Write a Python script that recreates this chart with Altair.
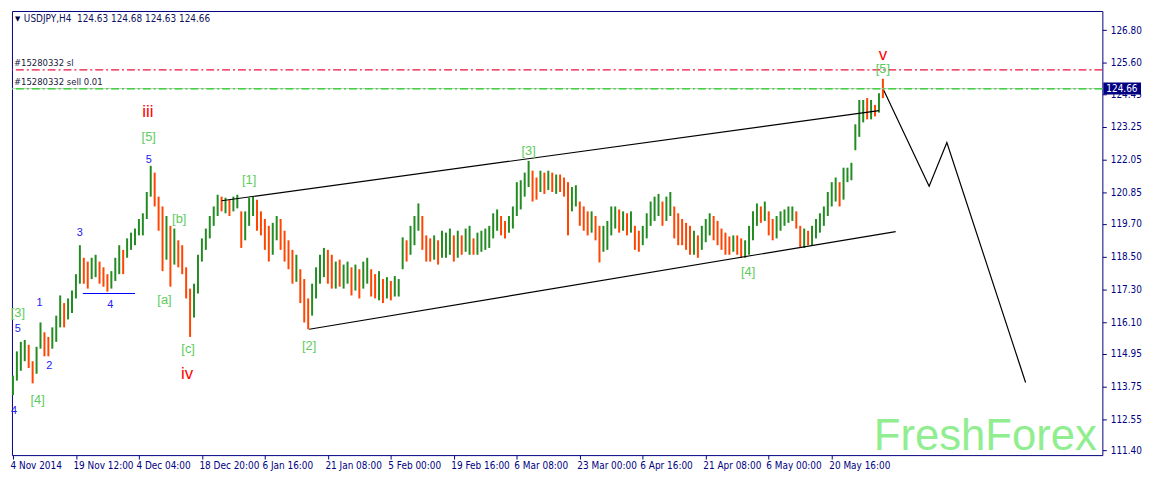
import altair as alt
import pandas as pd

# ---------------- data ----------------
# H4 bars, bar index (one index step = one 4-hour bar on the chart's time axis)
bar_index = list(range(1, 889, 4))

bar_high = [
    114.14, 115.03, 115.38, 115.45, 115.27, 114.67, 115.20, 116.09, 115.73, 115.56,
    115.91, 116.34, 117.08, 116.80, 116.97, 117.26, 117.86, 118.92, 118.46, 118.32,
    118.46, 118.57, 118.32, 118.11, 117.86, 117.97, 118.46, 118.92, 118.75, 119.17,
    119.38, 119.53, 119.88, 120.09, 120.87, 121.83, 121.58, 120.70, 120.34, 119.99,
    119.63, 119.53, 119.10, 118.92, 118.11, 117.33, 117.51, 118.57, 119.17, 119.53,
    119.99, 120.34, 120.77, 120.70, 120.66, 120.59, 120.70, 120.77, 120.16, 120.16,
    120.66, 120.70, 120.59, 120.16, 119.88, 119.63, 119.74, 119.99, 119.88, 119.45,
    119.10, 118.75, 118.57, 118.04, 117.68, 116.97, 117.51, 118.11, 118.57, 118.82,
    118.75, 118.57, 118.32, 118.39, 118.21, 118.32, 118.11, 118.21, 118.04, 118.32,
    118.46, 118.04, 117.86, 117.97, 117.68, 117.75, 117.61, 117.79, 117.68, 119.21,
    119.10, 119.63, 119.99, 120.45, 119.99, 119.28, 119.17, 119.28, 119.10, 119.45,
    119.38, 119.53, 119.28, 119.45, 119.28, 119.53, 119.63, 119.17, 119.38, 119.45,
    119.53, 119.63, 120.09, 120.23, 119.99, 119.81, 119.99, 120.34, 121.23, 121.30,
    121.58, 122.01, 121.65, 121.40, 121.65, 121.58, 121.65, 121.58, 121.51, 121.51,
    121.40, 121.23, 121.05, 121.12, 120.52, 120.34, 120.16, 120.16, 119.99, 119.63,
    119.63, 119.81, 120.34, 120.34, 120.23, 120.16, 120.09, 120.16, 119.63, 119.45,
    119.63, 120.09, 120.52, 120.70, 120.80, 120.52, 120.70, 120.87, 120.34, 120.09,
    119.88, 119.74, 119.63, 119.45, 119.28, 119.63, 119.88, 120.09, 119.99, 119.81,
    119.53, 119.38, 119.24, 119.28, 119.28, 119.17, 119.10, 119.63, 120.16, 120.45,
    120.34, 120.52, 120.16, 119.88, 119.99, 120.16, 120.23, 120.34, 120.34, 120.16,
    119.63, 119.53, 119.45, 119.63, 119.88, 120.09, 120.34, 120.87, 121.23, 121.40,
    121.23, 121.76, 121.76, 121.94, 123.35, 124.24, 124.24, 124.31, 124.24, 124.06,
    124.49, 125.02,
]

bar_low = [
    113.43, 113.96, 114.32, 114.67, 114.42, 113.86, 114.21, 115.13, 114.85, 114.85,
    115.13, 115.38, 115.91, 115.91, 116.20, 116.44, 116.97, 117.51, 117.51, 117.33,
    117.68, 117.75, 117.51, 117.40, 117.22, 117.33, 117.61, 117.86, 117.86, 118.46,
    118.75, 118.92, 119.28, 119.28, 119.88, 120.70, 120.34, 119.45, 117.97, 118.39,
    117.40, 118.21, 118.11, 117.86, 116.97, 115.56, 116.27, 117.15, 118.32, 118.75,
    119.17, 119.63, 119.99, 120.16, 120.09, 119.99, 120.16, 120.27, 118.82, 119.10,
    119.63, 119.99, 119.45, 119.28, 118.75, 118.32, 118.57, 119.10, 118.75, 118.32,
    118.04, 117.51, 117.58, 116.80, 116.09, 115.84, 116.34, 116.97, 117.51, 117.75,
    117.51, 117.33, 117.33, 117.40, 117.33, 117.51, 117.08, 117.26, 116.97, 117.33,
    117.51, 117.04, 116.97, 116.90, 116.80, 116.97, 116.90, 117.04, 117.04, 118.04,
    118.32, 118.57, 118.92, 119.45, 118.75, 118.32, 118.32, 118.39, 118.21, 118.46,
    118.46, 118.57, 118.32, 118.46, 118.57, 118.68, 118.57, 118.57, 118.57, 118.68,
    118.75, 118.82, 119.17, 119.45, 119.28, 119.17, 119.38, 119.53, 119.99, 120.23,
    120.70, 121.05, 120.52, 120.59, 120.87, 120.80, 120.94, 120.87, 120.80, 120.87,
    120.70, 119.28, 120.16, 120.34, 119.63, 119.45, 119.28, 119.38, 119.10, 118.29,
    118.68, 118.75, 119.28, 119.53, 119.38, 119.45, 119.28, 119.38, 118.75, 118.68,
    118.92, 119.17, 119.63, 119.81, 119.99, 119.63, 119.81, 119.99, 119.17, 118.92,
    118.92, 118.75, 118.57, 118.57, 118.46, 118.75, 119.03, 119.28, 119.10, 118.92,
    118.75, 118.57, 118.57, 118.68, 118.57, 118.46, 118.46, 118.57, 119.10, 119.63,
    119.74, 119.81, 119.28, 119.10, 119.17, 119.45, 119.63, 119.74, 119.81, 119.53,
    118.82, 118.82, 118.92, 118.92, 119.17, 119.38, 119.63, 119.99, 120.34, 120.52,
    120.34, 120.59, 121.23, 121.30, 122.40, 122.89, 123.42, 123.53, 123.53, 123.64,
    123.78, 124.31,
]

# u = bullish bar, d = bearish bar
bar_dir = list(
    "uuuudduudd" "uuuduuuudd" "uuddduuudu" "uuuuuudddu" "dudddduuuu"
    "uuududuudu" "uudddduudd" "dduddduuuu" "dduduududu" "uddududuuu"
    "duuudddudu" "uududuuduu" "uuuudduuuu" "uuddududud" "dduudddudd"
    "uuuudududd" "uuuuuduudd" "ddduduuudd" "dddudduuuu" "dudduuuuud"
    "duduuuuuuu" "duuuuuudud" "ud"
)

# trend / channel lines
upper_idx = [213, 881]
upper_price = [120.55, 123.85]
lower_idx = [302, 898]
lower_price = [115.84, 119.42]
proj_idx = [886, 932, 950, 1030]
proj_price = [124.59, 121.08, 122.68, 113.89]
wave4_idx = [72, 125]
wave4_price = [117.15, 117.15]

# order levels
sl_price = 125.34
sell_price = 124.65
bid_price = 124.66

# wave labels
blue_idx = [139, 69, 28, 6, 38, 2, 100]
blue_price = [122.04, 119.35, 116.80, 115.84, 114.49, 112.83, 116.73]
blue_text = ["5", "3", "1", "5", "2", "4", "4"]

green_idx = [139, 6, 26, 170, 155, 179, 241, 302, 525, 748, 885]
green_price = [122.89, 116.44, 113.25, 119.88, 116.90, 115.10, 121.30, 115.24, 122.36, 117.93, 125.37]
green_text = ["[5]", "[3]", "[4]", "[b]", "[a]", "[c]", "[1]", "[2]", "[3]", "[4]", "[5]"]

red_idx = [138, 178, 885]
red_price = [123.81, 114.21, 125.90]
red_text = ["iii", "iv", "v"]

# axes
date_idx = [1, 65, 129, 193, 257, 321, 385, 449, 513, 577, 641, 705, 769, 833]
date_labels = ["4 Nov 2014", "19 Nov 12:00", "4 Dec 04:00", "18 Dec 20:00", "6 Jan 16:00",
               "21 Jan 08:00", "5 Feb 00:00", "19 Feb 16:00", "6 Mar 08:00", "23 Mar 00:00",
               "6 Apr 16:00", "21 Apr 08:00", "6 May 00:00", "20 May 16:00"]
price_ticks = [111.40, 112.55, 113.75, 114.95, 116.10, 117.30, 118.50, 119.70,
               120.85, 122.05, 123.25, 124.45, 125.60, 126.80]

header = "USDJPY,H4\u00a0\u00a0124.63 124.68 124.63 124.66"

# ---------------- chart ----------------
NAVY = "#000080"
AXFONT = "DejaVu Sans Condensed"
LFONT = "Liberation Sans"
GREEN_BAR = "#228b22"
ORANGE_BAR = "#ff4500"

xs = alt.Scale(domain=[0, 1108], nice=False, zero=False)
ys = alt.Scale(domain=[111.23, 127.50], nice=False, zero=False)

label_expr = ("[" + ",".join("'%s'" % t for t in date_labels) + "][indexof(["
              + ",".join(str(v) for v in date_idx) + "], datum.value)]")

xaxis = alt.Axis(values=date_idx, labelExpr=label_expr, orient="bottom", title=None,
                 grid=False, domain=False, ticks=True, tickSize=4, tickColor=NAVY,
                 labelColor=NAVY, labelFont=AXFONT, labelFontSize=10, labelAlign="left",
                 labelPadding=2, labelOffset=-3, labelFlush=False, labelOverlap=False,
                 labelBound=False)
yaxis = alt.Axis(values=price_ticks, format=".2f", orient="right", title=None,
                 grid=False, domain=False, ticks=True, tickSize=4, tickColor=NAVY,
                 labelColor=NAVY, labelFont=AXFONT, labelFontSize=10, labelPadding=4,
                 labelFlush=False, labelOverlap=False, labelBound=False)


def X(f="idx"):
    return alt.X(f + ":Q", scale=xs, axis=xaxis)


def Y(f="price"):
    return alt.Y(f + ":Q", scale=ys, axis=yaxis)


bars_df = pd.DataFrame({"idx": bar_index, "high": bar_high, "low": bar_low, "dir": bar_dir})
bars = alt.Chart(bars_df).mark_rule(strokeWidth=2).encode(
    x=X(), y=Y("low"), y2="high:Q",
    color=alt.Color("dir:N", scale=alt.Scale(domain=["u", "d"], range=[GREEN_BAR, ORANGE_BAR]),
                    legend=None),
)

lines_df = pd.DataFrame({
    "idx": upper_idx + lower_idx + proj_idx,
    "price": upper_price + lower_price + proj_price,
    "line": ["upper"] * 2 + ["lower"] * 2 + ["proj"] * 4,
})
lines = alt.Chart(lines_df).mark_line(color="black", strokeWidth=1.2).encode(
    x=X(), y=Y(), detail="line:N", order="idx:Q")

w4_df = pd.DataFrame({"idx": wave4_idx, "price": wave4_price})
w4line = alt.Chart(w4_df).mark_line(color="#0000ff", strokeWidth=1.2).encode(x=X(), y=Y())

bid_rule = alt.Chart(pd.DataFrame({"price": [bid_price]})).mark_rule(
    color="#c8c8c8", strokeWidth=1).encode(y=Y())
sl_rule = alt.Chart(pd.DataFrame({"price": [sl_price]})).mark_rule(
    color="#f01040", strokeWidth=1.3, strokeDash=[8, 3, 2, 3]).encode(y=Y())
sell_rule = alt.Chart(pd.DataFrame({"price": [sell_price]})).mark_rule(
    color="#1fd01f", strokeWidth=1.3, strokeDash=[8, 3, 2, 3]).encode(y=Y())

order_df = pd.DataFrame({"price": [sl_price, sell_price],
                         "t": ["#15280332 sl", "#15280332 sell 0.01"]})
order_txt = alt.Chart(order_df).mark_text(
    align="left", baseline="middle", dy=-7, font=AXFONT, fontSize=9.5, color="#202040"
).encode(x=alt.value(2), y=Y(), text="t:N")


def labels(idx, price, text, color, size):
    df = pd.DataFrame({"idx": idx, "price": price, "t": text})
    return alt.Chart(df).mark_text(
        align="center", baseline="middle", font=LFONT, fontSize=size, color=color
    ).encode(x=X(), y=Y(), text="t:N")


blue_lbl = labels(blue_idx, blue_price, blue_text, "#2020f0", 11)
green_lbl = labels(green_idx, green_price, green_text, "#5ecb5e", 13)
red_lbl = labels(red_idx, red_price, red_text, "#ff0000", 17)

brand = alt.Chart(pd.DataFrame({"idx": [989], "price": [111.42], "t": ["FreshForex"]})).mark_text(
    align="center", baseline="alphabetic", font=LFONT, fontSize=44, color="#90ee90"
).encode(x=X(), y=Y(), text="t:N")

head_tri = alt.Chart(pd.DataFrame({"t": ["\u25bc"]})).mark_text(
    align="left", baseline="middle", x=3, y=8, font="DejaVu Sans", fontSize=7, color="#000040"
).encode(text="t:N")
head_txt = alt.Chart(pd.DataFrame({"t": [header]})).mark_text(
    align="left", baseline="middle", x=12, y=8, font=AXFONT, fontSize=10, color="#101060"
).encode(text="t:N")

box = alt.Chart(pd.DataFrame({"price": [124.44], "price2": [124.88]})).mark_rect(
    color=NAVY).encode(x=alt.value(1101), x2=alt.value(1139), y=Y(), y2="price2:Q")
box_txt = alt.Chart(pd.DataFrame({"price": [bid_price], "t": ["124.66"]})).mark_text(
    align="left", baseline="middle", font=AXFONT, fontSize=10, color="white"
).encode(x=alt.value(1104), y=Y(), text="t:N")

chart = alt.layer(
    brand, bars, bid_rule, sl_rule, sell_rule, lines, w4line,
    order_txt, blue_lbl, green_lbl, red_lbl, head_tri, head_txt, box, box_txt
).properties(
    width=1100, height=448,
    padding={"left": 1, "top": 1, "right": 0, "bottom": 0},
    background="white",
).configure_view(stroke=NAVY, strokeWidth=1)

chart.save("out.html", embed_options={"renderer": "svg", "actions": False})
